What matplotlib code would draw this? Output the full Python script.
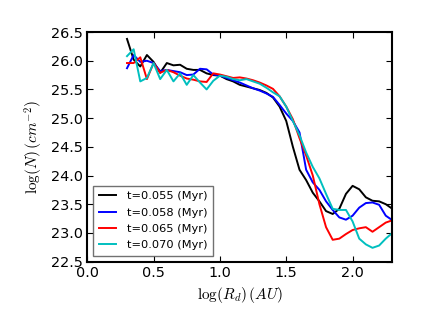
import matplotlib
matplotlib.use("Agg")
import matplotlib.pyplot as plt

plt.rcParams['mathtext.fontset'] = 'cm'

logR = [0.30, 0.35, 0.40, 0.45, 0.50, 0.55, 0.60, 0.65, 0.70, 0.75,
        0.80, 0.85, 0.90, 0.95, 1.00, 1.05, 1.10, 1.15, 1.20, 1.25,
        1.30, 1.35, 1.40, 1.45, 1.50, 1.55, 1.60, 1.65, 1.70, 1.75,
        1.80, 1.85, 1.90, 1.95, 2.00, 2.05, 2.10, 2.15, 2.20, 2.25, 2.30]

N_055 = [26.38, 26.02, 25.90, 26.10, 25.98, 25.79, 25.96, 25.92, 25.93, 25.86,
         25.84, 25.84, 25.78, 25.75, 25.74, 25.68, 25.64, 25.58, 25.55, 25.52,
         25.49, 25.44, 25.36, 25.20, 24.95, 24.50, 24.10, 23.92, 23.70, 23.55,
         23.38, 23.33, 23.42, 23.68, 23.82, 23.76, 23.62, 23.56, 23.55, 23.50, 23.42]

N_058 = [25.87, 26.10, 25.98, 26.00, 25.96, 25.82, 25.84, 25.82, 25.80, 25.75,
         25.76, 25.86, 25.85, 25.76, 25.74, 25.70, 25.66, 25.62, 25.57, 25.52,
         25.48, 25.43, 25.37, 25.23, 25.08, 24.95, 24.75, 24.10, 23.88, 23.75,
         23.55, 23.40, 23.27, 23.23, 23.30, 23.44, 23.52, 23.53, 23.49, 23.30, 23.22]

N_065 = [25.96, 25.96, 26.06, 25.68, 25.96, 25.79, 25.84, 25.80, 25.74, 25.69,
         25.67, 25.64, 25.63, 25.78, 25.76, 25.73, 25.70, 25.71, 25.69, 25.66,
         25.62, 25.57, 25.51, 25.38, 25.20, 24.98, 24.65, 24.35, 24.00, 23.50,
         23.10, 22.88, 22.90, 22.98, 23.05, 23.08, 23.10, 23.02, 23.10, 23.18, 23.22]

N_070 = [26.08, 26.20, 25.64, 25.70, 25.96, 25.68, 25.84, 25.64, 25.78, 25.58,
         25.75, 25.62, 25.50, 25.65, 25.74, 25.72, 25.68, 25.66, 25.68, 25.64,
         25.60, 25.53, 25.45, 25.38, 25.20, 24.95, 24.70, 24.40, 24.15, 23.95,
         23.68, 23.42, 23.40, 23.40, 23.20, 22.90, 22.80, 22.74, 22.78, 22.90, 23.00]

series = [N_055, N_058, N_065, N_070]
labels = ['t=0.055 (Myr)', 't=0.058 (Myr)', 't=0.065 (Myr)', 't=0.070 (Myr)']
colors = ['k', 'b', 'r', (0, 0.75, 0.75)]

fig = plt.figure(figsize=(4.36, 3.27), dpi=100)
ax = fig.add_axes([0.2, 0.2, 0.7, 0.702])

for n, lab, c in zip(series, labels, colors):
    ax.plot(logR, n, color=c, lw=1.4, label=lab)

ax.set_xlim(0.0, 2.3)
ax.set_ylim(22.5, 26.5)
ax.set_xticks([0.0, 0.5, 1.0, 1.5, 2.0])
ax.set_yticks([22.5, 23.0, 23.5, 24.0, 24.5, 25.0, 25.5, 26.0, 26.5])
ax.tick_params(direction='in', top=True, right=True, labelsize=10.4, length=4, pad=3)
for s in ax.spines.values():
    s.set_linewidth(1.5)

ax.set_xlabel(r'$\log(R_d)\,(AU)$', fontsize=11)
ax.set_ylabel(r'$\log(N)\,(cm^{-2})$', fontsize=11)

leg = ax.legend(loc='lower left', fontsize=8.2, fancybox=False, handlelength=1.5,
                handletextpad=1.0, labelspacing=0.55, borderpad=0.5,
                borderaxespad=0.5)
leg.get_frame().set_edgecolor('0.3')

fig.savefig('out.png', dpi=100)
